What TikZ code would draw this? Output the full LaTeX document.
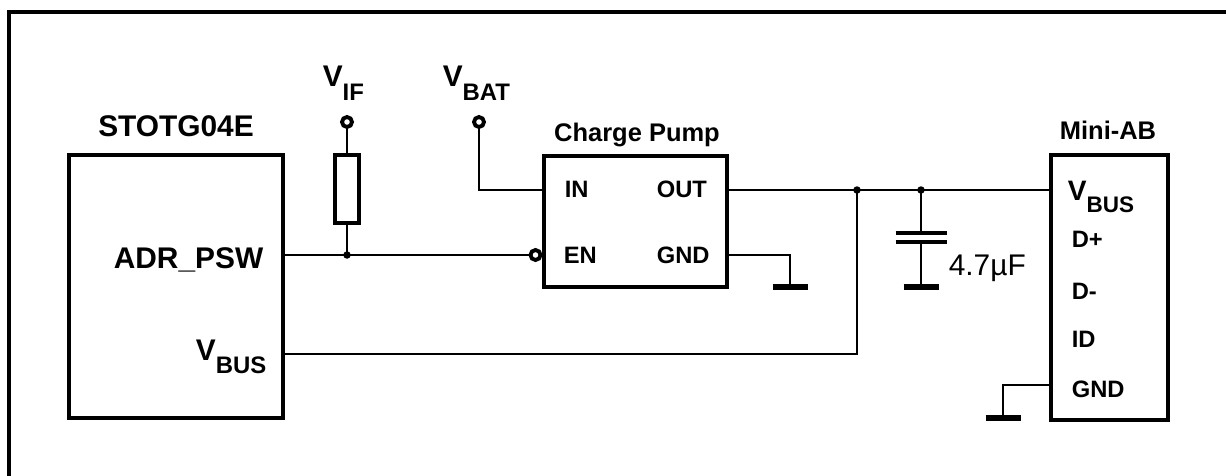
\documentclass[tikz,border=0pt]{standalone}
\usepackage{fontspec}
\setmainfont{Liberation Sans}
\usetikzlibrary{positioning}
\usetikzlibrary{calc}
\usetikzlibrary{math}

% subscript that sits low beside the V
\newcommand{\lowsub}[1]{\raisebox{-0.45em}{\scalebox{0.8}{#1}}}

\tikzset{
  chip/.style={draw, line width=2pt, inner sep=0pt},
  gndbar/.style={line width=3pt},
  plate/.style={line width=1.8pt},
  term/.style={circle, draw, fill=white, line width=2.2pt, minimum size=0.2cm, inner sep=0pt},
  biglabel/.style={font=\fontsize{17}{17}\selectfont\bfseries, inner sep=0pt},
  pinlabel/.style={font=\fontsize{13.5}{13.5}\selectfont\bfseries, inner sep=0pt, anchor=base west},
  titlelabel/.style={font=\fontsize{14.5}{14.5}\selectfont\bfseries, inner sep=0pt, anchor=base},
}

\begin{document}
\begin{tikzpicture}[x=0.02cm,y=-0.02cm,line width=0.9pt]

  \tikzmath{
    \dotradius = 0.075; % radius of the junction dots (cm)
    \gndhalf   = 17.5;  % half length of a ground bar
    \platehalf = 25.5;  % half length of a capacitor plate
  }

  \useasboundingbox (0,0) rectangle (1226,476);

  % frame
  \draw[line width=1.8pt] (9,476) -- (9,12) -- (1226,12);

  % the three blocks
  \node[chip, minimum width=4.28cm, minimum height=5.26cm] (otg)  at (176,286.5) {};
  \node[chip, minimum width=3.66cm, minimum height=2.62cm] (pump) at (635.5,221.5) {};
  \node[chip, minimum width=2.34cm, minimum height=5.3cm]  (usb)  at (1109.5,287.5) {};

  \node[biglabel, anchor=base]  (otgname)  at (176,137) {STOTG04E};
  \node[titlelabel]             (pumpname) at (637,142) {Charge Pump};
  \node[titlelabel]             (usbname)  at (1108,140) {Mini-AB};

  % pins of STOTG04E
  \coordinate (otg-adr)  at (283,255);
  \coordinate (otg-vbus) at (283,354);
  \node[biglabel, anchor=base east] (adrlabel)  at (264,268) {ADR\_PSW};
  \node[biglabel, anchor=base east] (otgvbus)   at (267,360) {V\lowsub{BUS}};

  % pins of the charge pump
  \coordinate (pump-in)  at (544,190);
  \coordinate (pump-out) at (727,190);
  \coordinate (pump-gnd) at (727,255);
  \node[term] (en) at (535.5,255) {};
  \node[pinlabel] (inlabel)  at (564,197) {IN};
  \node[pinlabel] (outlabel) at (656,197) {OUT};
  \node[pinlabel] (enlabel)  at (563,263) {EN};
  \node[pinlabel] (gndlabel) at (656,263) {GND};

  % pins of the Mini-AB connector
  \coordinate (usb-vbus) at (1051,190);
  \coordinate (usb-gnd)  at (1051,385);
  \node[biglabel, anchor=base west, font=\fontsize{16}{16}\selectfont\bfseries] (usbvbus) at (1067,200) {V\lowsub{BUS}};
  \node[pinlabel] (dplabel)   at (1071,247) {D+};
  \node[pinlabel] (dmlabel)   at (1071,299) {D-};
  \node[pinlabel] (idlabel)   at (1071,347) {ID};
  \node[pinlabel] (ugndlabel) at (1071,397) {GND};

  % supply terminals
  \node[term] (vif)  at (347,122) {};
  \node[term] (vbat) at (479,122) {};
  \node[biglabel, anchor=base west] (viflabel)  at (322,87) {V\lowsub{IF}};
  \node[biglabel, anchor=base west] (vbatlabel) at (442,87) {V\lowsub{BAT}};

  % pull-up resistor
  \node[draw, line width=1.8pt, minimum width=0.48cm, minimum height=1.36cm, inner sep=0pt] (res) at (347,189) {};

  % junctions
  \coordinate (jr) at (347,255);
  \coordinate (jv) at (857,190);
  \coordinate (jc) at (921,190);

  % capacitor and grounds
  \coordinate (cap-top)  at (921,233);
  \coordinate (cap-bot)  at (921,242);
  \coordinate (gnd-cap)  at (921,287);
  \coordinate (gnd-pump) at (790,287);
  \coordinate (gnd-usb)  at (1003,418);
  \node[anchor=base west, inner sep=0pt, font=\fontsize{17}{17}\selectfont] (caplabel) at (948,275) {4.7µF};

  % wires
  \draw (vif) -- (res);
  \draw (res) -- (jr);
  \draw (otg-adr) -- (jr) -- (en);
  \draw (vbat) |- (pump-in);
  \draw (pump-out) -- (jv) -- (jc) -- (usb-vbus);
  \draw (otg-vbus) -| (jv);
  \draw (jc) -- (cap-top);
  \draw (cap-bot) -- (gnd-cap);
  \draw (pump-gnd) -| (gnd-pump);
  \draw (usb-gnd) -| (gnd-usb);

  % capacitor plates
  \draw[plate] ($ (cap-top) + (-\platehalf,0) $) -- ($ (cap-top) + (\platehalf,0) $);
  \draw[plate] ($ (cap-bot) + (-\platehalf,0) $) -- ($ (cap-bot) + (\platehalf,0) $);

  % ground bars
  \draw[gndbar] ($ (gnd-cap) + (-\gndhalf,0) $)  -- ($ (gnd-cap) + (\gndhalf,0) $);
  \draw[gndbar] ($ (gnd-pump) + (-\gndhalf,0) $) -- ($ (gnd-pump) + (\gndhalf,0) $);
  \draw[gndbar] ($ (gnd-usb) + (-\gndhalf,0) $)  -- ($ (gnd-usb) + (\gndhalf,0) $);

  % dots
  \fill (jr) circle [radius=\dotradius cm];
  \fill (jv) circle [radius=\dotradius cm];
  \fill (jc) circle [radius=\dotradius cm];

\end{tikzpicture}
\end{document}
